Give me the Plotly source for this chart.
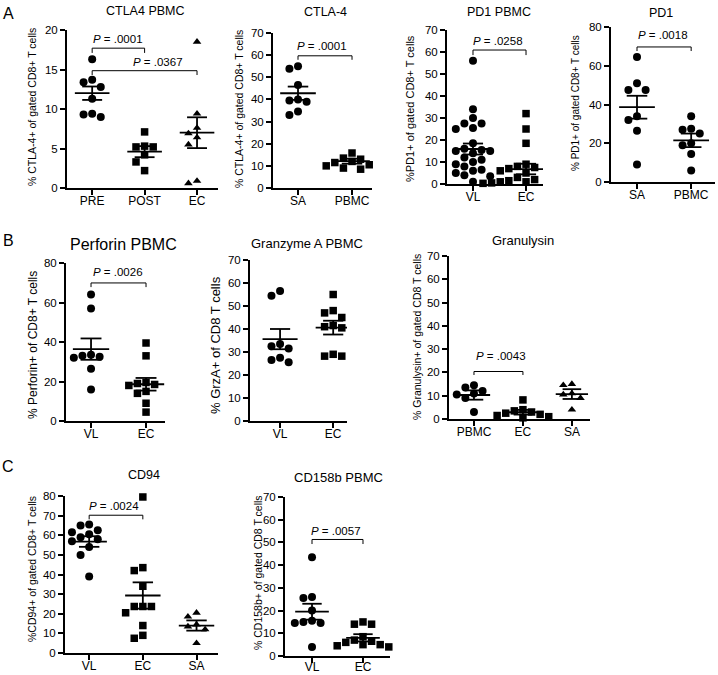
import plotly.graph_objects as go

W, H = 718, 675
FONT = "Liberation Sans, Arial, sans-serif"

# ---------------- data ----------------
a1_cats = ["PRE", "POST", "EC"]
a1_pre = [16.3, 13.7, 13.4, 12.8, 11.3, 9.4, 9.3, 9.0]
a1_post = [7.1, 5.3, 5.2, 5.2, 4.2, 3.3, 2.2]
a1_ec = [18.5, 9.4, 7.6, 6.9, 6.4, 5.5, 0.9, 0.6]
a1_mean = [12.0, 4.6, 7.0]
a1_sem = [0.85, 0.7, 1.95]

a2_cats = ["SA", "PBMC"]
a2_sa = [55.0, 53.8, 46.5, 40.0, 39.5, 39.0, 34.5, 33.0]
a2_pbmc = [15.8, 13.5, 13.0, 12.0, 11.5, 10.5, 10.0, 9.0, 8.5]
a2_mean = [42.8, 12.1]
a2_sem = [3.0, 1.1]

a3_cats = ["VL", "EC"]
a3_vl = [56, 34, 30, 27.5, 27.5, 25.5, 25, 18.5, 16, 15.5, 15, 15, 14, 12, 11,
         10, 9, 8, 6.5, 6, 5, 4, 3.5, 1]
a3_ec = [32, 25, 18.5, 9, 8, 7.5, 7, 6.5, 6, 5, 3, 2, 1.5, 1.5, 1, 1, 0.8,
         0.5, 0.5, 0.3]
a3_mean = [15.9, 6.8]
a3_sem = [2.5, 2.4]

a4_cats = ["SA", "PBMC"]
a4_sa = [64.5, 51.0, 47.5, 47.5, 34.0, 32.0, 26.5, 9.0]
a4_pbmc = [34.0, 27.5, 27.0, 25.0, 20.0, 19.0, 14.5, 6.0]
a4_mean = [38.6, 21.5]
a4_sem = [5.9, 3.5]

b1_cats = ["VL", "EC"]
b1_vl = [64, 57, 33.5, 33, 32.5, 32, 26.5, 16]
b1_ec = [39.5, 33, 19.5, 19, 18.5, 18, 15, 14, 9, 4.5]
b1_mean = [36.4, 18.6]
b1_sem = [5.4, 3.2]

b2_cats = ["VL", "EC"]
b2_vl = [56.5, 54.5, 33.5, 32.5, 31.5, 27.5, 26.5, 25.5]
b2_ec = [55, 48, 47, 45, 41.5, 40.5, 41, 29, 28.2, 28.2]
b2_mean = [35.6, 40.6]
b2_sem = [4.4, 3.0]

b3_cats = ["PBMC", "EC", "SA"]
b3_pbmc = [14.5, 13.5, 12, 11, 10.5, 9, 3]
b3_ec = [8.2, 4, 3.5, 3, 2.5, 2, 1.5, 1, 0.5]
b3_sa = [15, 14.5, 11, 10.5, 9, 4]
b3_mean = [10.3, 2.9, 10.7]
b3_sem = [2.0, 1.0, 2.1]

c1_cats = ["VL", "EC", "SA"]
c1_vl = [65.5, 65, 62.5, 61.5, 60.5, 59, 58, 57, 54, 50, 39]
c1_ec = [79.5, 43.5, 42, 34, 23.7, 23.7, 23.7, 20.5, 14, 9, 7.5]
c1_sa = [20.5, 18.5, 14.5, 13.5, 12, 5]
c1_mean = [56.8, 29.3, 14.0]
c1_sem = [2.7, 6.7, 2.6]

c2_cats = ["VL", "EC"]
c2_vl = [43.5, 26, 25.5, 20, 15.5, 15, 14.5, 14.5, 4]
c2_ec = [15, 14, 14, 8.5, 7, 6.5, 6, 5, 5, 4.5, 4]
c2_mean = [19.5, 8.0]
c2_sem = [3.5, 1.6]

# ---------------- panel layout (pixels) ----------------
panels = [
    dict(L=67, R=218, T=30, B=188, xr=[-0.48, 2.4], ymax=20, dtick=5,
         cats=a1_cats, groups=[a1_pre, a1_post, a1_ec],
         sym=["circle", "square", "triangle-up"], mean=a1_mean, sem=a1_sem,
         title="CTLA4 PBMC", tx=145, ty=11, tsize=12.5, xstand=-4,
         ytitle="% CTLA-4+ of gated CD8+ T cells", yx=32, yy=107, ysize=10.5,
         br=[(0, 1, 17.7, 17.1, ".0001", 0.5, 18.8),
             (0, 2, 14.85, 14.3, ".0367", 1.25, 15.95)]),
    dict(L=273, R=372, T=33, B=188, xr=[-0.463, 1.37], ymax=70, dtick=10,
         cats=a2_cats, groups=[a2_sa, a2_pbmc],
         sym=["circle", "square"], mean=a2_mean, sem=a2_sem,
         title="CTLA-4", tx=325, ty=12, tsize=12.5, xstand=-4,
         ytitle="% CTLA-4+ of gated CD8+ T cells", yx=239, yy=109, ysize=10.5,
         br=[(0, 1, 59.7, 57.9, ".0001", 0.45, 64.3)]),
    dict(L=447, R=543, T=30, B=184, xr=[-0.49, 1.32], ymax=70, dtick=10,
         cats=a3_cats, groups=[a3_vl, a3_ec],
         sym=["circle", "square"], mean=a3_mean, sem=a3_sem,
         title="PD1 PBMC", tx=499, ty=12, tsize=12.5, xstand=-4,
         ytitle="%PD1+ of gated CD8+ T cells", yx=410, yy=109, ysize=11,
         br=[(0, 1, 60.9, 58.6, ".0258", 0.47, 64.8)]),
    dict(L=611, R=715, T=27, B=182, xr=[-0.48, 1.44], ymax=80, dtick=20,
         cats=a4_cats, groups=[a4_sa, a4_pbmc],
         sym=["circle", "circle"], mean=a4_mean, sem=a4_sem,
         title="PD1", tx=661, ty=13, tsize=12.5, xstand=-4,
         ytitle="% PD1+ of gated CD8+ T cells", yx=575, yy=103, ysize=10,
         br=[(0, 1, 69.7, 67.6, ".0018", 0.48, 75.8)]),
    dict(L=66, R=165, T=263, B=421, xr=[-0.455, 1.345], ymax=80, dtick=20,
         cats=b1_cats, groups=[b1_vl, b1_ec],
         sym=["circle", "square"], mean=b1_mean, sem=b1_sem,
         title="Perforin PBMC", tx=123, ty=244, tsize=16, xstand=-4,
         ytitle="% Perforin+ of CD8+ T cells", yx=33, yy=345, ysize=12,
         br=[(0, 1, 69.9, 67.8, ".0026", 0.49, 75.4)]),
    dict(L=250, R=347, T=260, B=421, xr=[-0.566, 1.26], ymax=70, dtick=10,
         cats=b2_cats, groups=[b2_vl, b2_ec],
         sym=["circle", "square"], mean=b2_mean, sem=b2_sem,
         title="Granzyme A PBMC", tx=307, ty=243, tsize=13, xstand=-4,
         ytitle="% GrzA+ of CD8 T cells", yx=215, yy=345, ysize=13,
         br=[]),
    dict(L=449, R=590, T=256, B=419, xr=[-0.51, 2.37], ymax=70, dtick=10,
         cats=b3_cats, groups=[b3_pbmc, b3_ec, b3_sa],
         sym=["circle", "square", "triangle-up"], mean=b3_mean, sem=b3_sem,
         title="Granulysin", tx=523, ty=240, tsize=13, xstand=-4,
         ytitle="% Granulysin+ of gated CD8 T cells", yx=417, yy=337, ysize=10.5,
         br=[(0, 1, 20.4, 18.9, ".0043", 0.55, 27.0)]),
    dict(L=65, R=218, T=496, B=653, xr=[-0.45, 2.4], ymax=80, dtick=10,
         cats=c1_cats, groups=[c1_vl, c1_ec, c1_sa],
         sym=["circle", "square", "triangle-up"], mean=c1_mean, sem=c1_sem,
         title="CD94", tx=144, ty=475, tsize=12.5, xstand=-4,
         ytitle="%CD94+ of gated CD8+ T cells", yx=32, yy=569, ysize=10.5,
         br=[(0, 1, 70.2, 68.1, ".0024", 0.47, 74.8)]),
    dict(L=285, R=390, T=497, B=656, xr=[-0.53, 1.53], ymax=70, dtick=10,
         cats=c2_cats, groups=[c2_vl, c2_ec],
         sym=["circle", "square"], mean=c2_mean, sem=c2_sem,
         title="CD158b PBMC", tx=338, ty=477, tsize=13, xstand=-6,
         ytitle="% CD158b+ of gated CD8 T cells", yx=258, yy=573, ysize=10.5,
         br=[(0, 1, 51.3, 49.3, ".0057", 0.48, 55.0)]),
]

letters = [("A", 8, 13), ("B", 8, 240), ("C", 8, 466)]


def swarm(values, ppy, d):
    """Beeswarm offsets (pixels) so markers do not overlap."""
    order = sorted(range(len(values)), key=lambda i: -values[i])
    placed = []
    res = [0.0] * len(values)
    for i in order:
        y = values[i] * ppy
        xo = 0.0
        for k in [0, -1, 1, -2, 2, -3, 3, -4, 4, -5, 5]:
            xo = k * d
            if all((xo - px) ** 2 + (y - py) ** 2 >= (0.92 * d) ** 2
                   for px, py in placed):
                break
        placed.append((xo, y))
        res[i] = xo
    return res


fig = go.Figure()
annotations = []
layout_axes = {}

for n, p in enumerate(panels, start=1):
    xa = "x" if n == 1 else f"x{n}"
    ya = "y" if n == 1 else f"y{n}"
    xkey = "xaxis" if n == 1 else f"xaxis{n}"
    ykey = "yaxis" if n == 1 else f"yaxis{n}"
    L, R, T, B = p["L"], p["R"], p["T"], p["B"]
    x0, x1 = p["xr"]
    ppx = (R - L) / (x1 - x0)
    ppy = (B - T) / p["ymax"]

    layout_axes[xkey] = dict(
        domain=[L / W, R / W], anchor=ya, range=p["xr"], automargin=False,
        tickvals=list(range(len(p["cats"]))), ticktext=p["cats"],
        ticks="outside", ticklen=5, tickwidth=2, tickcolor="black",
        showline=True, linewidth=2, linecolor="black",
        showgrid=False, zeroline=False, ticklabelstandoff=p["xstand"],
        fixedrange=True,
        tickfont=dict(family=FONT, size=12, color="black"))
    layout_axes[ykey] = dict(
        domain=[1 - B / H, 1 - T / H], anchor=xa, range=[0, p["ymax"]],
        automargin=False, dtick=p["dtick"], tick0=0,
        ticks="outside", ticklen=5, tickwidth=2, tickcolor="black",
        showline=True, linewidth=2, linecolor="black",
        showgrid=False, zeroline=False, ticklabelstandoff=0,
        fixedrange=True,
        tickfont=dict(family=FONT, size=11.5, color="black"))

    # points
    for gi, vals in enumerate(p["groups"]):
        offs = swarm(vals, ppy, 8.6)
        xs = [gi + o / ppx for o in offs]
        sym = p["sym"][gi]
        size = 8 if sym == "circle" else 7.5
        fig.add_trace(go.Scatter(
            x=xs, y=vals, mode="markers", xaxis=xa, yaxis=ya,
            marker=dict(symbol=sym, size=size, color="black",
                        line=dict(width=0)),
            cliponaxis=False, showlegend=False, hoverinfo="y"))

    # mean +/- SEM
    lx, ly = [], []
    for gi, (m, s) in enumerate(zip(p["mean"], p["sem"])):
        lx += [gi - 0.33, gi + 0.33, None]
        ly += [m, m, None]
        lx += [gi - 0.19, gi + 0.19, None, gi - 0.19, gi + 0.19, None]
        ly += [m + s, m + s, None, m - s, m - s, None]
        lx += [gi, gi, None]
        ly += [m - s, m + s, None]
    fig.add_trace(go.Scatter(x=lx, y=ly, mode="lines", xaxis=xa, yaxis=ya,
                             line=dict(color="black", width=1.8),
                             cliponaxis=False, showlegend=False,
                             hoverinfo="skip"))

    # significance brackets
    bx, by = [], []
    for (c0, c1, yl, yt, txt, tx, ty) in p["br"]:
        bx += [c0, c0, c1, c1, None]
        by += [yt, yl, yl, yt, None]
        annotations.append(dict(
            x=tx, y=ty, xref=xa, yref=ya, text=f"<i>P</i> = {txt}",
            showarrow=False, xanchor="center", yanchor="middle",
            font=dict(family=FONT, size=11.5, color="black")))
    if bx:
        fig.add_trace(go.Scatter(x=bx, y=by, mode="lines", xaxis=xa, yaxis=ya,
                                 line=dict(color="black", width=1),
                                 cliponaxis=False, showlegend=False,
                                 hoverinfo="skip"))

    # titles
    annotations.append(dict(
        x=p["tx"] / W, y=1 - p["ty"] / H, xref="paper", yref="paper",
        text=p["title"], showarrow=False, xanchor="center", yanchor="middle",
        font=dict(family=FONT, size=p["tsize"], color="black")))
    annotations.append(dict(
        x=p["yx"] / W, y=1 - p["yy"] / H, xref="paper", yref="paper",
        text=p["ytitle"], showarrow=False, textangle=-90,
        xanchor="center", yanchor="middle",
        font=dict(family=FONT, size=p["ysize"], color="black")))

for t, lx_, ly_ in letters:
    annotations.append(dict(
        x=lx_ / W, y=1 - ly_ / H, xref="paper", yref="paper", text=t,
        showarrow=False, xanchor="center", yanchor="middle",
        font=dict(family=FONT, size=16, color="black")))

fig.update_layout(
    width=W, height=H, margin=dict(l=0, r=0, t=0, b=0, autoexpand=False),
    paper_bgcolor="white", plot_bgcolor="white", hovermode=False,
    showlegend=False, annotations=annotations, **layout_axes)

fig.write_html(
    "out.html",
    config={"displayModeBar": False, "staticPlot": True},
    post_script="document.body.style.margin='0px';"
                "document.body.style.padding='0px';"
                "document.body.style.overflow='hidden';")
